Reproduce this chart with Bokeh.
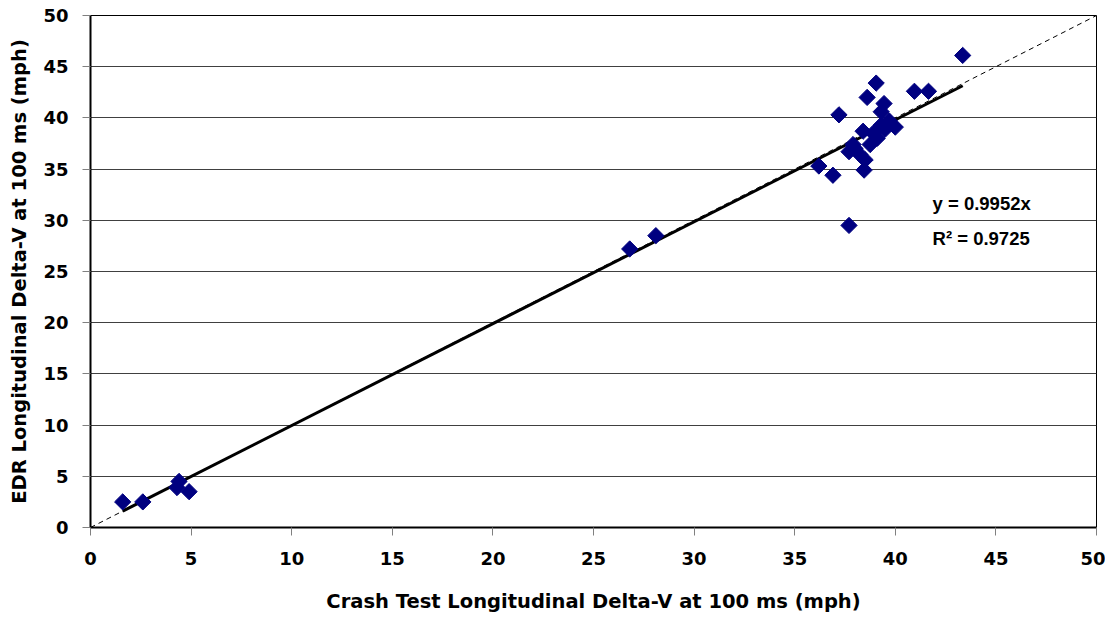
import math
from bokeh.plotting import figure
from bokeh.models import Range1d, Label, ColumnDataSource, FixedTicker
from bokeh.embed import file_html
from bokeh.resources import INLINE

# Data
crash_test_dv = [1.6, 2.6, 4.3, 4.4, 4.9, 26.8, 28.1, 36.2, 36.9, 37.2, 37.7, 37.7,
                 37.9, 38.0, 38.25, 38.45, 38.5, 38.4, 38.6, 38.75, 38.9, 39.05, 39.1,
                 39.3, 39.3, 39.44, 39.5, 39.7, 40.0, 40.95, 41.65, 43.35]
edr_dv = [2.5, 2.5, 3.9, 4.5, 3.5, 27.2, 28.5, 35.3, 34.4, 40.3, 29.5, 36.7,
          37.4, 37.0, 36.4, 34.9, 35.9, 38.7, 42.0, 37.4, 38.5, 43.4, 38.0,
          39.3, 40.6, 41.4, 38.9, 39.7, 39.1, 42.6, 42.6, 46.1]
trend_slope = 0.9952
r_squared = 0.9725
ticks = [0, 5, 10, 15, 20, 25, 30, 35, 40, 45, 50]

AXFONT = "DejaVu Sans"
FONT = "Liberation Sans"

p = figure(width=1105, height=615, output_backend="svg", toolbar_location=None,
           x_range=Range1d(0, 50), y_range=Range1d(0, 50),
           min_border_left=90, min_border_right=9, min_border_top=15, min_border_bottom=88)
p.background_fill_color = "white"
p.border_fill_color = "white"
p.outline_line_color = "black"
p.outline_line_width = 1

# grid
p.xgrid.grid_line_color = None
p.ygrid.grid_line_color = "#404040"
p.ygrid.grid_line_width = 1
p.ygrid.ticker = FixedTicker(ticks=ticks)

for ax in (p.xaxis[0], p.yaxis[0]):
    ax.ticker = FixedTicker(ticks=ticks)
    ax.major_label_text_font = AXFONT
    ax.major_label_text_font_style = "bold"
    ax.major_label_text_font_size = "18px"
    ax.major_label_text_color = "black"
    ax.axis_label_text_font = AXFONT
    ax.axis_label_text_font_style = "bold"
    ax.axis_label_text_font_size = "19.5px"
    ax.axis_label_text_color = "black"
    ax.major_tick_out = 8
    ax.major_tick_in = 0
    ax.major_tick_line_color = "#808080"
    ax.minor_tick_line_color = None
    ax.axis_line_color = "black"
    ax.axis_line_width = 2

p.xaxis.axis_label = "Crash Test Longitudinal Delta-V at 100 ms (mph)"
p.yaxis.axis_label = "EDR Longitudinal Delta-V at 100 ms (mph)"
p.xaxis.major_label_standoff = 16
p.yaxis.major_label_standoff = 14
p.xaxis.axis_label_standoff = 22
p.yaxis.axis_label_standoff = 9

# y = x reference dashed line
p.line([ticks[0], ticks[-1]], [ticks[0], ticks[-1]], line_color="black",
       line_width=1, line_dash="5 4")

# trend line
xmin, xmax = min(crash_test_dv), max(crash_test_dv)
p.line([xmin, xmax], [trend_slope * xmin, trend_slope * xmax], line_color="black",
       line_width=3)

src = ColumnDataSource(dict(x=crash_test_dv, y=edr_dv))
p.scatter("x", "y", source=src, marker="square", size=11.5, angle=math.pi / 4,
          fill_color="#000080", line_color="#000080")

p.add_layout(Label(x=41.85, y=31.6, text=f"y = {trend_slope}x", text_font=FONT,
                   text_font_style="bold", text_font_size="18.5px", text_color="black",
                   text_baseline="alphabetic"))
p.add_layout(Label(x=41.85, y=28.2, text=f"R² = {r_squared}", text_font=FONT,
                   text_font_style="bold", text_font_size="18.5px", text_color="black",
                   text_baseline="alphabetic"))

open("out.html", "w").write(file_html(p, INLINE))
